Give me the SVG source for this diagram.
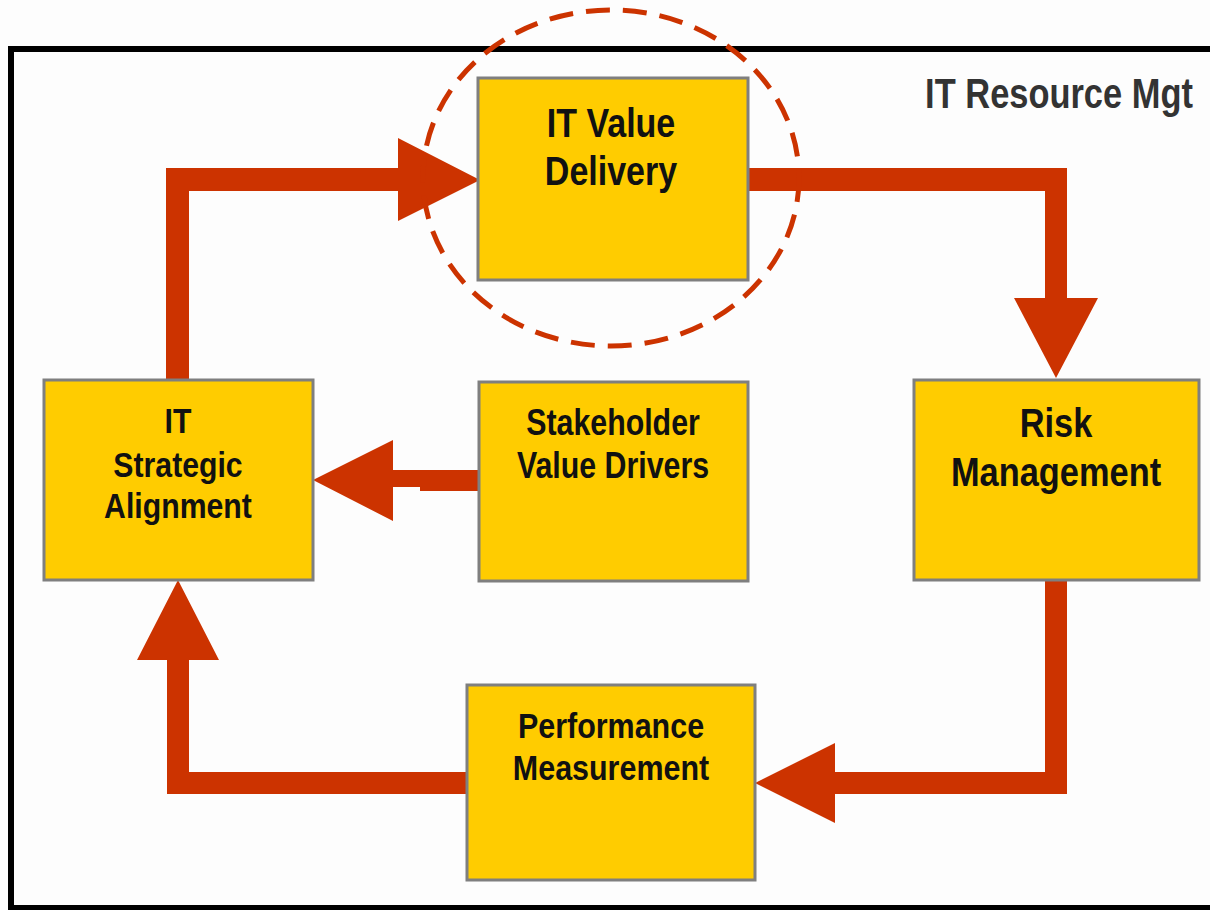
<svg xmlns="http://www.w3.org/2000/svg" width="1210" height="910" viewBox="0 0 1210 910">
  <style>
    .box { fill: #ffcc00; stroke: #7f7f7f; stroke-width: 3; }
    .lbl { font-family: "Liberation Sans", Arial, sans-serif; font-weight: bold; fill: #111; text-anchor: middle; }
    .conn { fill: #cc3300; stroke: none; }
  </style>
  <rect x="0" y="0" width="1210" height="910" fill="#fdfdfd"/>
  <rect id="frame" x="11" y="49" width="1215" height="859" fill="#fdfdfd" stroke="#000" stroke-width="6"/>
  <g id="title">
    <g transform="translate(1059,0) scale(0.82,1)">
      <text class="lbl" x="0" y="108" font-size="42" style="fill:#333">IT Resource Mgt</text>
    </g>
  </g>
  <g id="connectors">
    <polygon class="conn" points="166,379 166,168 398,168 398,138 480,180 398,221 398,191 189,191 189,379"/>
    <polygon class="conn" points="749,168 1067,168 1067,298 1098,298 1056,378 1014,298 1045,298 1045,191 749,191"/>
    <polygon class="conn" points="1045,581 1067,581 1067,794 835,794 835,823 755,783 835,743 835,772 1045,772"/>
    <polygon class="conn" points="467,772 467,794 167,794 167,660 137,660 178,580 219,660 189,660 189,772"/>
    <polygon class="conn" points="478,470 393,470 393,440 313,480 393,521 393,487 420,487 420,491 478,491"/>
  </g>
  <g id="value-delivery">
    <rect class="box" x="478" y="78" width="270" height="202"/>
    <g transform="translate(611,0) scale(0.83,1)">
      <text class="lbl" x="0" y="137" font-size="41">IT Value</text>
      <text class="lbl" x="0" y="185" font-size="41">Delivery</text>
    </g>
  </g>
  <g id="strategic-alignment">
    <rect class="box" x="44" y="380" width="269" height="200"/>
    <g transform="translate(178,0) scale(0.84,1)">
      <text class="lbl" x="0" y="433" font-size="36">IT</text>
      <text class="lbl" x="0" y="477" font-size="36">Strategic</text>
      <text class="lbl" x="0" y="518" font-size="36">Alignment</text>
    </g>
  </g>
  <g id="stakeholder">
    <rect class="box" x="479" y="382" width="269" height="199"/>
    <g transform="translate(613,0) scale(0.82,1)">
      <text class="lbl" x="0" y="435" font-size="37">Stakeholder</text>
      <text class="lbl" x="0" y="478" font-size="37">Value Drivers</text>
    </g>
  </g>
  <g id="risk-management">
    <rect class="box" x="914" y="380" width="285" height="200"/>
    <g transform="translate(1056,0) scale(0.86,1)">
      <text class="lbl" x="0" y="437" font-size="40">Risk</text>
      <text class="lbl" x="0" y="486" font-size="40">Management</text>
    </g>
  </g>
  <g id="performance">
    <rect class="box" x="467" y="685" width="288" height="195"/>
    <g transform="translate(611,0) scale(0.87,1)">
      <text class="lbl" x="0" y="738" font-size="35">Performance</text>
      <text class="lbl" x="0" y="780" font-size="35">Measurement</text>
    </g>
  </g>
  <g id="highlight">
    <ellipse cx="611" cy="178" rx="188" ry="168" fill="none" stroke="#cc3300" stroke-width="5" stroke-dasharray="24,13"/>
  </g>
</svg>
